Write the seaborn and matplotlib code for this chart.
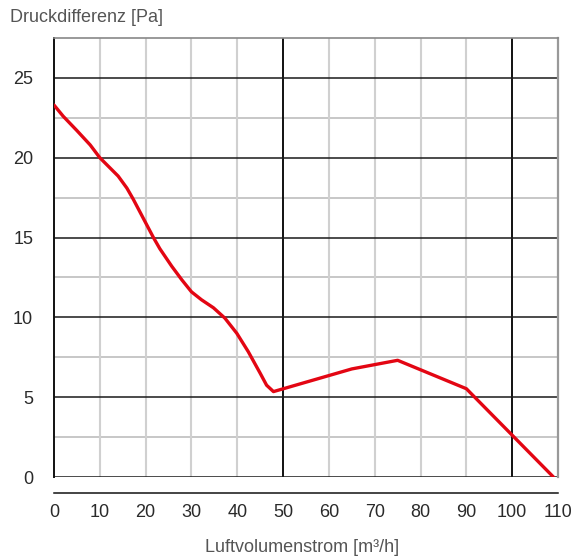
import pandas as pd
import matplotlib
matplotlib.use("Agg")
import matplotlib.pyplot as plt
import seaborn as sns
from matplotlib.ticker import MultipleLocator

# =========================
# Data
# =========================
flow = [0, 2, 5, 7.9, 10, 14, 15.9, 17.3, 21.7, 23.1, 25.7, 27.9, 30, 32.2,
        34.8, 37.3, 39.9, 42.4, 45, 46.4, 47.9, 65, 75, 90, 109]
pressure = [23.3, 22.6, 21.7, 20.8, 20.0, 18.85, 18.1, 17.4, 15.0, 14.3, 13.2,
            12.35, 11.6, 11.1, 10.6, 9.95, 9.0, 7.85, 6.5, 5.75, 5.35, 6.77,
            7.31, 5.53, 0]
x_ticks = [0, 10, 20, 30, 40, 50, 60, 70, 80, 90, 100, 110]
y_ticks = [0, 5, 10, 15, 20, 25]

df = pd.DataFrame({"flow": flow, "pressure": pressure})

sns.set_style("white")
plt.rcParams["font.family"] = ["Liberation Sans", "DejaVu Sans"]

fig = plt.figure(figsize=(5.76, 5.58), dpi=100)
ax = fig.add_axes([54 / 576, 1 - 477 / 558, 504 / 576, 439 / 558])

# grid first, curve on top
ax.set_axisbelow(True)
ax.set_xlim(0, 110)
ax.set_ylim(0, 27.5)
ax.set_xticks(x_ticks)
ax.set_yticks(y_ticks)
ax.yaxis.set_minor_locator(MultipleLocator(2.5))

ax.grid(False)
for yv in [2.5, 7.5, 12.5, 17.5, 22.5]:
    ax.axhline(yv, color="#bdbdbd", lw=1.2, zorder=0)
for yv in y_ticks:
    ax.axhline(yv, color="#1a1a1a", lw=1.1, zorder=0.5)
for xv in x_ticks[1:-1]:
    col = "#111111" if xv in (50, 100) else "#d0d0d0"
    ax.axvline(xv, color=col, lw=1.4 if xv in (50, 100) else 1.5, zorder=0.3)

sns.lineplot(data=df, x="flow", y="pressure", sort=False, color="#e30613",
             linewidth=2.4, ax=ax, zorder=3)

# spines
ax.spines["left"].set_color("#111111")
ax.spines["left"].set_linewidth(1.4)
ax.spines["top"].set_color("#888888")
ax.spines["top"].set_linewidth(1.2)
ax.spines["right"].set_color("#999999")
ax.spines["right"].set_linewidth(1.6)
ax.spines["bottom"].set_position(("outward", 11.5))
ax.spines["bottom"].set_color("#111111")
ax.spines["bottom"].set_linewidth(1.1)

ax.tick_params(axis="x", direction="inout", length=6, width=1.1,
               color="#111111", labelsize=13, labelcolor="#2a2a2a", pad=5)
ax.tick_params(axis="y", which="major", direction="out", length=5, width=1.1,
               color="#111111", labelsize=13, labelcolor="#2a2a2a", pad=10)
ax.tick_params(axis="y", which="minor", direction="out", length=5, width=1.1,
               color="#bdbdbd")

ax.set_xlabel("")
ax.set_ylabel("")
fig.text(10 / 576, 1 - 18 / 558, "Druckdifferenz [Pa]", fontsize=13,
         color="#555555", ha="left", va="center")
fig.text(302 / 576, 1 - 548 / 558, "Luftvolumenstrom [m³/h]", fontsize=13,
         color="#555555", ha="center", va="center")

fig.savefig("out.png", dpi=100)
plt.close()
